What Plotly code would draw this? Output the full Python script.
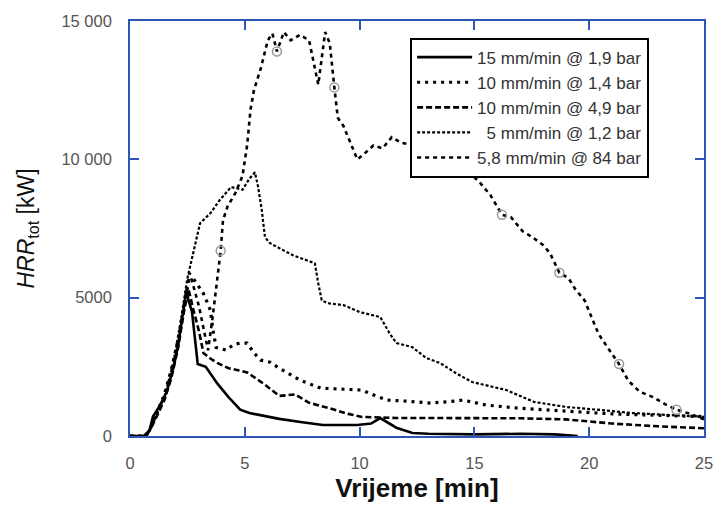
import plotly.graph_objects as go

# Total heat release rate curves, time in minutes, HRR in kW
t_15_19 = [0, 0.6, 0.85, 1.0, 1.3, 1.6, 1.9, 2.1, 2.3, 2.45, 2.55, 2.7, 2.95, 3.3, 3.8, 4.3, 4.8,
           5.2, 6.0, 6.5, 7.5, 8.4, 9.9, 10.5, 10.9, 11.3, 11.6, 12.3, 13.0, 15.0, 17.0, 18.5, 19.5]
hrr_15_19 = [0, 0, 200, 700, 1100, 1600, 2500, 3300, 4400, 5250, 4900, 4500, 2600, 2500, 1900, 1400, 950,
             830, 700, 620, 500, 400, 400, 450, 650, 450, 300, 110, 80, 60, 80, 60, 0]

t_10_14 = [0, 0.7, 0.9, 1.2, 1.5, 1.8, 2.1, 2.35, 2.55, 2.75, 3.2, 3.5, 3.6, 3.75, 4.2, 4.5, 4.8, 5.1,
           5.4, 5.7, 6.1, 6.5, 7.0, 7.4, 8.3, 9.2, 10.1, 10.7, 11.2, 12.2, 13.1, 14.0, 14.5, 15.5,
           17.0, 19.0, 21.0, 23.0, 25.0]
hrr_10_14 = [0, 0, 300, 900, 1500, 2400, 3500, 4700, 5600, 5700, 5150, 4550, 3900, 3200, 3100, 3300, 3360, 3360,
             3000, 2740, 2670, 2450, 2200, 2020, 1730, 1700, 1660, 1450, 1300, 1250, 1190, 1250, 1300, 1120,
             1000, 900, 800, 750, 700]

t_10_49 = [0, 0.7, 0.9, 1.2, 1.5, 1.8, 2.1, 2.35, 2.55, 2.75, 3.0, 3.2, 3.5, 3.8, 4.3, 4.7, 5.1, 5.8,
           6.5, 7.2, 7.8, 8.7, 9.5, 10.1, 11.6, 13.1, 15.0, 17.0, 19.0, 21.0, 23.0, 25.0]
hrr_10_49 = [0, 0, 250, 800, 1300, 2100, 3200, 4500, 5300, 4600, 3800, 3000, 2800, 2640, 2450, 2380, 2300, 1900,
             1450, 1500, 1200, 1000, 800, 690, 650, 650, 650, 640, 600, 450, 350, 280]

t_5_12 = [0, 0.7, 1.0, 1.5, 1.9, 2.2, 2.5, 2.8, 3.05, 3.5, 3.9, 4.4, 4.9, 5.2, 5.44, 5.58, 5.74, 5.88,
          6.1, 6.5, 7.1, 7.7, 8.05, 8.2, 8.35, 8.6, 9.3, 10.0, 10.9, 11.3, 11.6, 12.3, 12.9, 13.5,
          14.2, 14.9, 16.4, 17.6, 19.0, 20.5, 21.9, 25.0]
hrr_5_12 = [0, 0, 500, 1400, 2700, 4100, 5700, 6800, 7690, 8050, 8520, 9000, 8900, 9300, 9530, 9000, 8160, 7180,
            6970, 6790, 6530, 6350, 6240, 5520, 4910, 4800, 4730, 4480, 4300, 3720, 3360, 3210, 2820, 2640,
            2270, 1950, 1660, 1230, 1050, 940, 830, 690]

t_58_84 = [0, 0.7, 0.9, 1.2, 1.5, 1.8, 2.1, 2.35, 2.6, 3.0, 3.4, 3.6, 3.8, 3.95, 4.05, 4.25, 4.6, 4.9,
           5.1, 5.25, 5.4, 5.7, 6.0, 6.2, 6.4, 6.7, 7.0, 7.4, 7.8, 8.0, 8.2, 8.5, 8.7, 8.9, 9.05,
           9.3, 9.6, 9.9, 10.2, 10.6, 11.0, 11.4, 11.8, 12.4, 13.0, 13.8, 14.4, 14.8, 15.2, 15.7,
           16.2, 16.6, 17.1, 17.5, 18.0, 18.3, 18.7, 19.1, 19.4, 19.8, 20.1, 20.4, 20.8, 21.3,
           21.7, 22.2, 22.8, 23.3, 23.8, 24.4, 25.0]
hrr_58_84 = [0, 0, 300, 900, 1400, 2300, 3400, 4600, 5900, 4700, 3100, 4300, 5800, 6700, 7800, 8300, 8800, 9400,
             10500, 11800, 12500, 13300, 14300, 14550, 13900, 14600, 14300, 14500, 14300, 13500, 12700, 14600,
             14200, 12600, 11500, 11200, 10600, 10000, 10200, 10500, 10400, 10800, 10600, 10500, 10300,
             10000, 9700, 9500, 9200, 8700, 8000, 7900, 7400, 7200, 6900, 6600, 5900, 5700, 5300, 4900,
             4300, 3700, 3200, 2600, 2000, 1600, 1400, 1150, 950, 800, 600]
# sample points flagged with open circles on the 84 bar curve
circ_t = [3.95, 6.4, 8.9, 16.2, 18.7, 21.3, 23.8]
circ_hrr = [6700, 13900, 12600, 8000, 5900, 2600, 950]

x_ticks = [0, 5, 10, 15, 20, 25]
y_ticks = [0, 5000, 10000, 15000]
y_tick_text = ["0", "5000", "10 000", "15 000"]

AXIS_BLUE = "#2f55b8"
FONT = "Liberation Sans, Arial, sans-serif"

fig = go.Figure()
fig.add_trace(go.Scatter(x=t_15_19, y=hrr_15_19, mode="lines", name="15 mm/min @ 1,9 bar",
                         line=dict(color="black", width=2.6)))
fig.add_trace(go.Scatter(x=t_10_14, y=hrr_10_14, mode="lines", name="10 mm/min @ 1,4 bar",
                         line=dict(color="black", width=3.2, dash="3px,5px")))
fig.add_trace(go.Scatter(x=t_10_49, y=hrr_10_49, mode="lines", name="10 mm/min @ 4,9 bar",
                         line=dict(color="black", width=2.6, dash="6px,3px")))
fig.add_trace(go.Scatter(x=t_5_12, y=hrr_5_12, mode="lines", name="\u00a0\u00a05 mm/min @ 1,2 bar",
                         line=dict(color="black", width=2.2, dash="3px,2px")))
fig.add_trace(go.Scatter(x=t_58_84, y=hrr_58_84, mode="lines", name="5,8 mm/min @ 84 bar",
                         legendgroup="84", line=dict(color="black", width=2.6, dash="4px,4px")))
fig.add_trace(go.Scatter(x=circ_t, y=circ_hrr, mode="markers", legendgroup="84", showlegend=False,
                         marker=dict(symbol="circle-open", size=9, color="#9a9a9a",
                                     line=dict(width=1.5, color="#9a9a9a"))))

axis_common = dict(showline=True, linecolor=AXIS_BLUE, linewidth=1.6, mirror="ticks",
                   ticks="inside", ticklen=9, tickwidth=2, tickcolor=AXIS_BLUE,
                   showgrid=False, zeroline=False, ticklabeloverflow="allow",
                   tickfont=dict(family=FONT, size=16.5, color="#555555"))

fig.update_xaxes(range=[0, 25], tickvals=x_ticks, ticklabelstandoff=11,
                 title=dict(text="<b>Vrijeme [min]</b>", standoff=8,
                            font=dict(family="Liberation Sans Narrow, Arial Narrow, sans-serif",
                                      size=26, color="#111111")),
                 **axis_common)
fig.update_yaxes(range=[0, 15000], tickvals=y_ticks, ticktext=y_tick_text, ticklabelstandoff=13,
                 title=dict(text="<i>HRR</i><sub>tot</sub> [kW]", standoff=20,
                            font=dict(family=FONT, size=23, color="#111111")),
                 **axis_common)

fig.update_layout(
    width=713, height=505,
    margin=dict(l=130, r=9, t=21, b=69, autoexpand=False),
    paper_bgcolor="white", plot_bgcolor="white",
    showlegend=True,
    legend=dict(x=0.488, y=0.96, xanchor="left", yanchor="top",
                bgcolor="white", bordercolor="black", borderwidth=2,
                font=dict(family=FONT, size=17, color="#333333"),
                itemwidth=55, tracegroupgap=0),
)

fig.write_html("out.html")
